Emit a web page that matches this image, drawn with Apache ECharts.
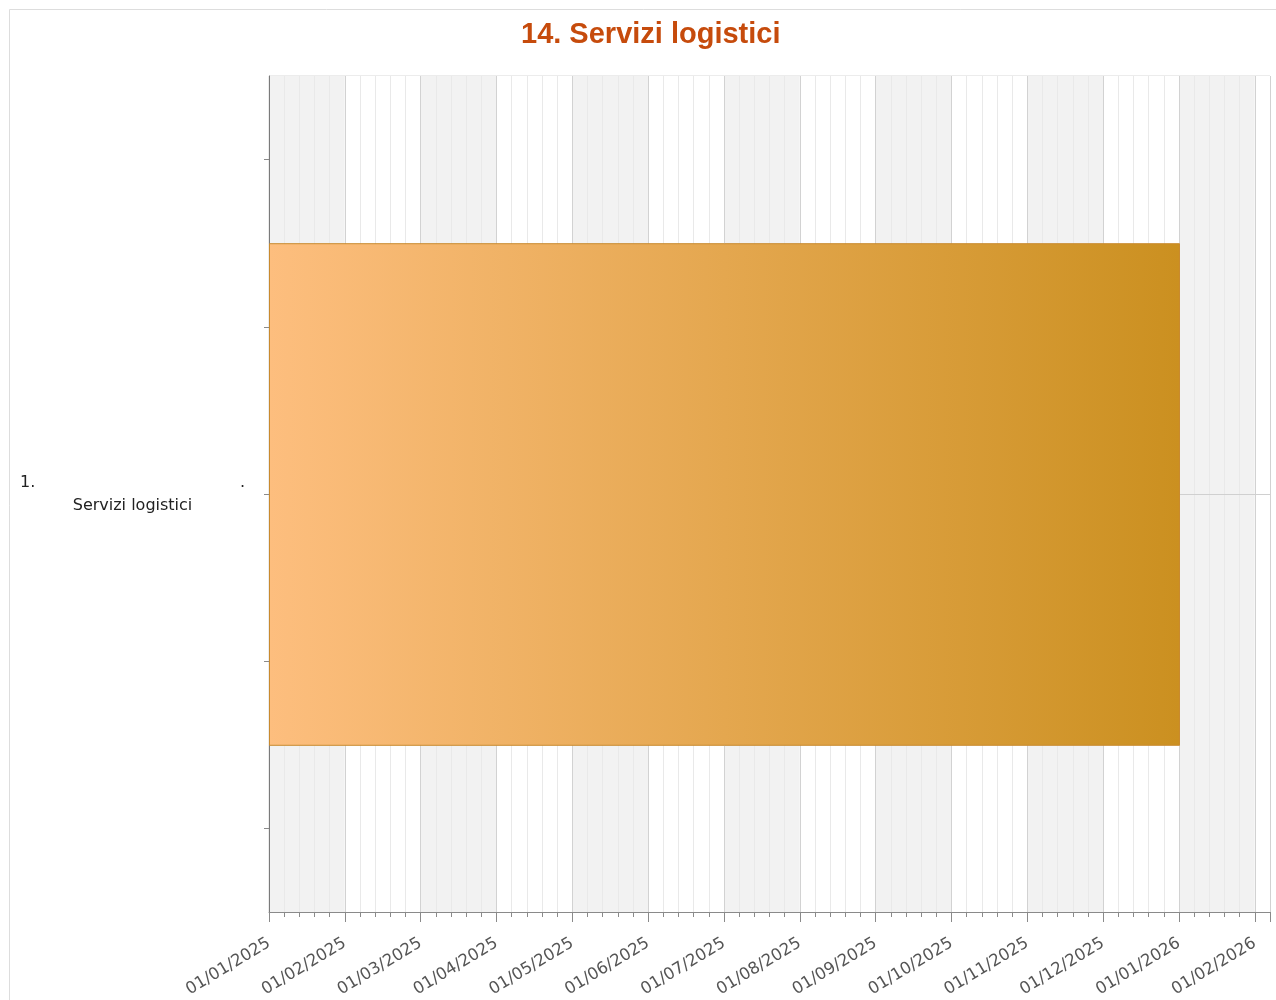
<!DOCTYPE html>
<html>
<head>
<meta charset="utf-8">
<script src="https://cdn.jsdelivr.net/npm/echarts@6/dist/echarts.min.js"></script>
<style>
html,body{margin:0;padding:0;background:#fff;}
#chart{width:1276px;height:1000px;}
</style>
</head>
<body>
<div id="chart"></div>
<script>
// ---- data ----
const chartTitle = '14. Servizi logistici';
const taskNumbers = ['1.'];
const taskNames = ['Servizi logistici'];
const taskStart = ['01/01/2025'];
const taskEnd = ['01/01/2026'];
const monthLabels = ['01/01/2025','01/02/2025','01/03/2025','01/04/2025','01/05/2025','01/06/2025',
  '01/07/2025','01/08/2025','01/09/2025','01/10/2025','01/11/2025','01/12/2025','01/01/2026','01/02/2026'];
const xMaxMonths = 13.2;   // axis extent in months from 01/01/2025
const yTickValues = [0.5, 1.5, 2.5, 3.5, 4.5];
const yMax = 5;
const barSpan = 3;         // bar thickness in y units

function monthIndex(s){
  const p = s.split('/').map(Number);
  const dim = new Date(p[2], p[1], 0).getDate();
  return (p[2]-2025)*12 + (p[1]-1) + (p[0]-1)/dim;
}
const taskRows = taskNames.map((_, i) => yMax/2 + i);
const barData = taskNames.map((n, i) => [monthIndex(taskStart[i]), monthIndex(taskEnd[i]), taskRows[i]]);

const chart = echarts.init(document.getElementById('chart'));
const option = {
  animation: false,
  backgroundColor: '#ffffff',
  title: {
    text: chartTitle, left: 521, top: 20, padding: 0,
    textStyle: { fontFamily: 'Liberation Sans, Arial', fontSize: 29, fontWeight: 'bold', color: '#C64B0C' }
  },
  graphic: [{
    type: 'rect', silent: true, z: -10,
    shape: { x: 9.5, y: 9.5, width: 1300, height: 1300 },
    style: { fill: 'none', stroke: '#dddddd', lineWidth: 1 }
  }],
  grid: { left: 269, right: 6, top: 76, bottom: 88, show: true, borderColor: '#d8d8d8', borderWidth: 1, backgroundColor: 'transparent' },
  xAxis: {
    type: 'value', min: 0, max: xMaxMonths, interval: 1, position: 'bottom',
    axisLine: { show: true, onZero: false, lineStyle: { color: '#8a8a8a', width: 1 } },
    axisTick: { show: true, length: 10, lineStyle: { color: '#8a8a8a' } },
    minorTick: { show: true, splitNumber: 5, length: 5, lineStyle: { color: '#8a8a8a' } },
    splitLine: { show: true, lineStyle: { color: '#d2d2d2', width: 1 } },
    minorSplitLine: { show: true, lineStyle: { color: '#e9e9e9', width: 1 } },
    splitArea: { show: true, areaStyle: { color: ['#f2f2f2', '#ffffff'] } },
    axisLabel: {
      rotate: 31, margin: 30, color: '#555555', fontFamily: 'DejaVu Sans', fontSize: 16.5,
      showMaxLabel: true,
      formatter: v => { const i = Math.round(v); return Math.abs(v - i) < 1e-6 && monthLabels[i] ? monthLabels[i] : ''; }
    }
  },
  yAxis: {
    type: 'value', min: 0, max: yMax, inverse: true, interval: 2.5,
    axisLine: { show: true, onZero: false, lineStyle: { color: '#7a7a7a', width: 1 } },
    axisTick: { show: true, length: 5, customValues: yTickValues, lineStyle: { color: '#8a8a8a' } },
    splitLine: { show: false },
    axisLabel: {
      customValues: taskRows, margin: 24, align: 'right', verticalAlign: 'middle',
      formatter: v => {
        const i = taskRows.indexOf(v);
        if (i < 0) return '';
        return '{num|' + taskNumbers[i] + '}{dot|.}\n{name|' + taskNames[i] + '}';
      },
      rich: {
        num: { width: 213, align: 'left', fontFamily: 'DejaVu Sans', fontSize: 16, color: '#222', lineHeight: 23 },
        dot: { width: 12, align: 'right', fontFamily: 'DejaVu Sans', fontSize: 16, color: '#222', lineHeight: 23 },
        name: { width: 225, align: 'center', fontFamily: 'DejaVu Sans', fontSize: 16, color: '#222', lineHeight: 23 }
      }
    }
  },
  series: [
    {
      type: 'custom', z: 1, silent: true,
      data: taskRows.map(r => [r]),
      encode: { y: 0 },
      renderItem: (params, api) => {
        const cs = params.coordSys;
        const y = Math.round(api.coord([0, api.value(0)])[1]) + 0.5;
        return { type: 'line', shape: { x1: cs.x, y1: y, x2: cs.x + cs.width, y2: y },
          style: { stroke: '#d0d0d0', lineWidth: 1 } };
      }
    },
    {
      type: 'custom', z: 5, silent: true,
      data: barData,
      encode: { x: [0, 1], y: 2 },
      renderItem: (params, api) => {
        const p0 = api.coord([api.value(0), api.value(2)]);
        const p1 = api.coord([api.value(1), api.value(2)]);
        const h = api.size([0, barSpan])[1];
        return {
          type: 'rect',
          shape: { x: p0[0] + 0.5, y: p0[1] - h/2 + 0.5, width: p1[0] - p0[0], height: h },
          style: {
            fill: new echarts.graphic.LinearGradient(0, 0, 1, 0, [
              { offset: 0, color: '#FDBE7E' },
              { offset: 1, color: '#CB9020' }
            ]),
            stroke: '#C98A2E', lineWidth: 1
          }
        };
      }
    }
  ]
};
chart.setOption(option);
</script>
</body>
</html>
